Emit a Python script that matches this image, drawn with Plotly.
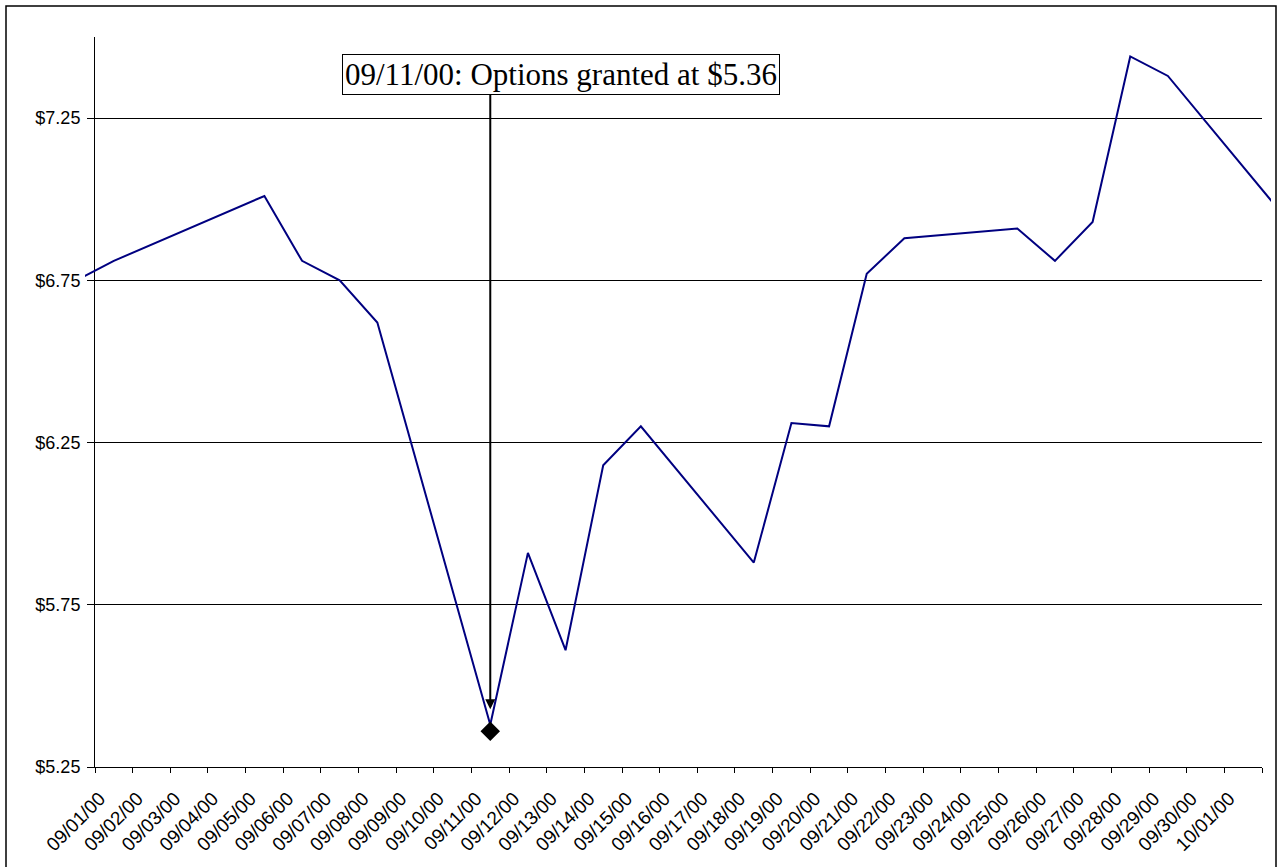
import plotly.graph_objects as go

# ---- data ----
tick_labels = [
    "09/01/00", "09/02/00", "09/03/00", "09/04/00", "09/05/00", "09/06/00",
    "09/07/00", "09/08/00", "09/09/00", "09/10/00", "09/11/00", "09/12/00",
    "09/13/00", "09/14/00", "09/15/00", "09/16/00", "09/17/00", "09/18/00",
    "09/19/00", "09/20/00", "09/21/00", "09/22/00", "09/23/00", "09/24/00",
    "09/25/00", "09/26/00", "09/27/00", "09/28/00", "09/29/00", "09/30/00",
    "10/01/00",
]
extended_labels = ["08/31/00"] + tick_labels + ["10/02/00"]

trade_dates = [
    "08/31/00", "09/01/00", "09/05/00", "09/06/00", "09/07/00", "09/08/00",
    "09/11/00", "09/12/00", "09/13/00", "09/14/00", "09/15/00", "09/18/00",
    "09/19/00", "09/20/00", "09/21/00", "09/22/00", "09/25/00", "09/26/00",
    "09/27/00", "09/28/00", "09/29/00", "10/02/00",
]
prices = [
    6.75, 6.81, 7.01, 6.81, 6.75, 6.62,
    5.38, 5.91, 5.61, 6.18, 6.30, 5.88,
    6.31, 6.30, 6.77, 6.88, 6.91, 6.81,
    6.93, 7.44, 7.38, 6.96,
]
grant_date = ["09/11/00"]
grant_price = [5.36]
annotation_text = "09/11/00: Options granted at $5.36"

# ---- geometry (pixels) ----
W, H = 1282, 867
L_EXT, R_EXT = 85, 1271      # clip region of the price line
AX_L, AX_R = 95, 1262        # visible axis extent
TOP, BOT = 37, 767
n_days = len(tick_labels)
ppd = (AX_R - AX_L) / n_days
# range of hidden axis (extended categories, 09/01 = index 1)
ext_lo = 1 - ((AX_L + 0.5 * ppd) - L_EXT) / ppd
ext_hi = 1 + (n_days - 1) + (R_EXT - (AX_L + (n_days - 0.5) * ppd)) / ppd
plot_w = R_EXT - L_EXT
dom0 = (AX_L - L_EXT) / plot_w
dom1 = (AX_R - L_EXT) / plot_w

fig = go.Figure()

# dummy trace to register the visible category axis
fig.add_trace(go.Scatter(x=tick_labels, y=[None] * n_days, mode="lines",
                         xaxis="x", yaxis="y", hoverinfo="skip", showlegend=False))

fig.add_trace(go.Scatter(
    x=trade_dates, y=prices, mode="lines", xaxis="x2", yaxis="y2",
    line=dict(color="#000080", width=2), showlegend=False,
))
fig.add_trace(go.Scatter(
    x=grant_date, y=grant_price, mode="markers", xaxis="x2", yaxis="y2",
    marker=dict(symbol="diamond", size=15, color="black"), showlegend=False,
))

font_sans = "Liberation Sans, Arial, sans-serif"

fig.update_layout(
    width=W, height=H,
    margin=dict(l=L_EXT, r=W - R_EXT, t=TOP, b=H - BOT),
    paper_bgcolor="white",
    plot_bgcolor="rgba(0,0,0,0)",
    showlegend=False,
    font=dict(family=font_sans, size=18, color="black"),
    xaxis=dict(
        type="category", categoryorder="array", categoryarray=tick_labels,
        range=[-0.5, n_days - 0.5], domain=[dom0, dom1], anchor="y",
        tickson="boundaries", ticks="outside", ticklen=5, tickcolor="black",
        tickwidth=1, showline=True, linecolor="black", linewidth=1,
        showgrid=False, tickangle=-45, tickfont=dict(size=19, family=font_sans),
        ticklabelshift=-14, ticklabelstandoff=12,
        fixedrange=True,
    ),
    yaxis=dict(
        range=[5.25, 7.5], domain=[0, 1], anchor="x",
        tick0=5.25, dtick=0.5, tickformat=".2f", tickprefix="$",
        ticks="outside", ticklen=7, tickcolor="black", tickwidth=1,
        showline=True, linecolor="black", linewidth=1,
        showgrid=True, gridcolor="black", gridwidth=1, zeroline=False,
        ticklabelstandoff=3, tickfont=dict(size=18, family=font_sans),
        fixedrange=True,
    ),
    xaxis2=dict(
        type="category", categoryorder="array", categoryarray=extended_labels,
        range=[ext_lo, ext_hi], domain=[0, 1], anchor="y2", visible=False,
        fixedrange=True,
    ),
    yaxis2=dict(
        range=[5.25, 7.5], domain=[0, 1], anchor="x2", visible=False,
        fixedrange=True,
    ),
)

# arrow from the text box down to the grant marker
fig.add_annotation(
    x=grant_date[0], y=grant_price[0], xref="x2", yref="y2",
    text="", showarrow=True, ax=0, ay=-650, axref="pixel", ayref="pixel",
    arrowhead=2, arrowsize=1, arrowwidth=2, arrowcolor="black", standoff=22,
)
# text box
fig.add_annotation(
    x=grant_date[0], xref="x", xanchor="left", xshift=(341 - 489),
    y=(BOT - 54) / (BOT - TOP), yref="paper", yanchor="top",
    text=annotation_text, showarrow=False,
    font=dict(family="Liberation Serif, Times New Roman, serif", size=31, color="black"),
    bgcolor="white", bordercolor="black", borderwidth=1, borderpad=2,
)

# outer chart border
fig.add_shape(
    type="rect", xref="paper", yref="paper",
    x0=(6 - L_EXT) / plot_w, x1=(1276 - L_EXT) / plot_w,
    y0=(BOT - 872) / (BOT - TOP), y1=(BOT - 6) / (BOT - TOP),
    line=dict(color="black", width=1.5), fillcolor="rgba(0,0,0,0)", layer="below",
)

fig.write_html("out.html")
